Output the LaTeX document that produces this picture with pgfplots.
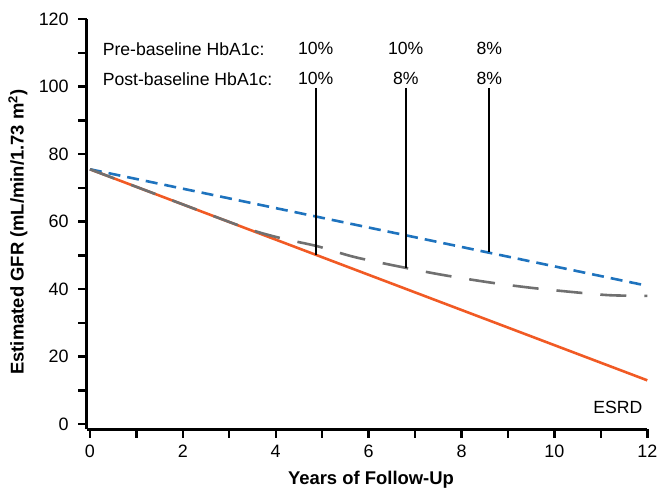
\documentclass[border=0pt]{standalone}
\usepackage{pgfplots}
\pgfplotsset{compat=1.18}
\usepackage{fontspec}
\setmainfont{Liberation Sans}
\definecolor{esrdorange}{RGB}{241,90,36}
\definecolor{preblue}{RGB}{30,115,190}
\definecolor{postgray}{RGB}{112,112,112}
\newcommand{\txt}{\fontsize{17.7}{21}\selectfont}
\begin{document}
\begin{tikzpicture}
\begin{axis}[
  width=560.6bp, height=410.3bp, scale only axis,
  xmin=-0.07, xmax=12, ymin=-1.5, ymax=120,
  axis x line*=bottom, axis y line*=left,
  every outer x axis line/.append style={-, line width=2.4bp},
  every outer y axis line/.append style={-, line width=2.4bp},
  xtick={0,2,...,12}, minor xtick={1,3,...,11},
  ytick={0,20,...,120}, minor ytick={10,30,...,110},
  tick align=outside,
  major tick length=8.5bp, minor tick length=8.5bp,
  tick style={black, line width=2.4bp},
  major tick style={black, line width=2.4bp},
  minor tick style={black, line width=2.4bp},
  /pgf/number format/assume math mode=true,
  ticklabel style={font=\fontsize{18}{21}\selectfont},
  yticklabel style={xshift=-6bp},
  xticklabel style={yshift=-4bp},
  xlabel={\textbf{Years of Follow-Up}},
  ylabel={\textbf{Estimated GFR (mL/min/1.73 m\textsuperscript{2})}},
  every axis x label/.style={at={(axis description cs:0.5,0)}, anchor=center, yshift=-50.5bp, xshift=4bp},
  every axis y label/.style={at={(axis description cs:0,0.5)}, anchor=center, xshift=-68.7bp, yshift=-8bp, rotate=90},
  label style={font=\fontsize{18.5}{22}\selectfont},
  clip=false,
]
% ESRD trajectory
\addplot[esrdorange, line width=2.6bp] coordinates {(0,75.5) (12,13)};
% pre-baseline 8%
\addplot[preblue, line width=2.6bp, dash pattern=on 12bp off 7bp] coordinates {(0,75.5) (12,41)};
% post-baseline 8%
\addplot[postgray, line width=2.6bp, dash pattern=on 26bp off 18bp, smooth] coordinates {
  (0,75.5) (1,70.3) (2,65.1) (3,59.9) (3.6,57) (4.2,54.8) (4.9,52.7) (5.7,49.5)
  (6.8,46.3) (7.6,44.2) (8.6,42) (9.5,40.4) (10.5,39) (11.2,38.2) (12,38)};
% markers for change in HbA1c
\addplot[black, line width=2.2bp] coordinates {(4.86,99.6) (4.86,50.2)};
\addplot[black, line width=2.2bp] coordinates {(6.80,99.6) (6.80,46.3)};
\addplot[black, line width=2.2bp] coordinates {(8.60,99.6) (8.60,50.9)};

\node[anchor=west, font=\txt] at (axis cs:0.2,111.2) {Pre-baseline HbA1c:};
\node[anchor=west, font=\txt] at (axis cs:0.2,102.3) {Post-baseline HbA1c:};
\node[font=\txt] at (axis cs:4.86,111.2) {10\%};
\node[font=\txt] at (axis cs:6.80,111.2) {10\%};
\node[font=\txt] at (axis cs:8.60,111.2) {8\%};
\node[font=\txt] at (axis cs:4.86,102.3) {10\%};
\node[font=\txt] at (axis cs:6.80,102.3) {8\%};
\node[font=\txt] at (axis cs:8.60,102.3) {8\%};
\node[anchor=east, font=\txt] at (axis cs:11.97,5.1) {ESRD};
\end{axis}
\pgfresetboundingbox
\path ([xshift=-86.7bp, yshift=-62.7bp]current axis.south west)
  rectangle ([xshift=570.3bp, yshift=429.3bp]current axis.south west);
\end{tikzpicture}
\end{document}
